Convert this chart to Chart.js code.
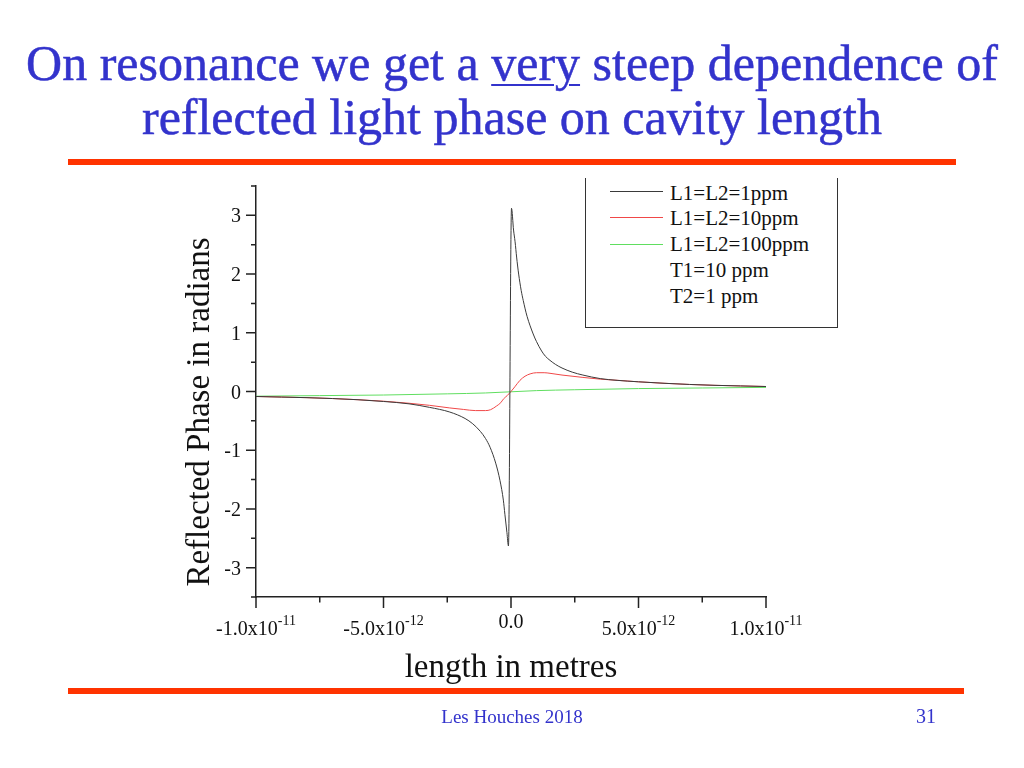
<!DOCTYPE html>
<html>
<head>
<meta charset="utf-8">
<script src="https://cdn.jsdelivr.net/npm/chart.js@4/dist/chart.umd.min.js"></script>
<style>
  html, body { margin: 0; padding: 0; background: #fff; }
  body { width: 1024px; height: 768px; position: relative; overflow: hidden; font-family: "Liberation Serif", serif; }
  .abs { position: absolute; white-space: nowrap; }
  #title { left: 0; width: 1024px; top: 36px; text-align: center; color: #3333cc; font-size: 50px; line-height: 54px; -webkit-text-stroke: 0.5px #3333cc; }
  #title u { text-decoration-thickness: 2px; text-underline-offset: 4px; }
  .rule { position: absolute; background: #ff3300; height: 6px; }
  #ytitle { width: 420px; left: -12px; top: 396px; text-align: center; font-size: 33px; line-height: 32px; color: #111; transform: rotate(-90deg); transform-origin: 210px 16px; }
  #xtitle { left: 256px; width: 510px; top: 650px; text-align: center; font-size: 33px; line-height: 32px; color: #111; }
  #footer { left: 0; width: 1024px; top: 707px; text-align: center; font-size: 19px; line-height: 19px; color: #3333cc; }
  #page { left: 916px; top: 706px; font-size: 20px; line-height: 20px; color: #3333cc; }
  #legend { position: absolute; left: 585px; top: 178px; width: 251px; height: 149px; border-left: 1.5px solid #333; border-right: 1.5px solid #333; border-bottom: 1.5px solid #333; background: #fff; }
  .lg { position: absolute; left: 84px; font-size: 21px; line-height: 21px; color: #111; white-space: nowrap; }
  .ls { position: absolute; left: 24px; width: 53px; height: 1px; }
  canvas { position: absolute; left: 0; top: 0; }
</style>
</head>
<body>
<canvas id="c" width="1024" height="768"></canvas>
<div id="title" class="abs">On resonance we get a <u>very</u> steep dependence of<br>reflected light phase on cavity length</div>
<div class="rule" style="left:68px; top:159px; width:888px;"></div>
<div class="rule" style="left:68px; top:688px; width:896px;"></div>
<div id="ytitle" class="abs">Reflected Phase in radians</div>
<div id="xtitle" class="abs">length in metres</div>
<div id="footer" class="abs">Les Houches 2018</div>
<div id="page" class="abs">31</div>
<div id="legend"></div>
<script>
// ---- data (x in metres, phase in radians) ----
const seriesNames = ["L1=L2=1ppm", "L1=L2=10ppm", "L1=L2=100ppm"];
const extraLegend = ["T1=10 ppm", "T2=1 ppm"];
const seriesColors = ["#3a3a3a", "rgb(240,72,72)", "rgb(96,222,96)"];

const xBlack = [-10e-12,-9e-12,-8e-12,-7e-12,-6e-12,-5e-12,-4e-12,-3.2e-12,-2.4e-12,-1.8e-12,-1.5e-12,-1.2e-12,-1.0e-12,-0.82e-12,-0.6e-12,-0.43e-12,-0.3e-12,-0.24e-12,-0.16e-12,-0.1e-12,0.02e-12,0.1e-12,0.16e-12,0.22e-12,0.3e-12,0.4e-12,0.48e-12,0.63e-12,0.87e-12,1.0e-12,1.2e-12,1.35e-12,1.53e-12,1.75e-12,2.0e-12,2.4e-12,2.82e-12,3.5e-12,4.16e-12,5e-12,6e-12,7e-12,8e-12,9e-12,10e-12];
const yBlack = [-0.085,-0.095,-0.105,-0.12,-0.14,-0.17,-0.21,-0.27,-0.35,-0.46,-0.55,-0.68,-0.8,-0.95,-1.22,-1.52,-1.85,-2.09,-2.4,-2.63,3.12,2.75,2.55,2.29,2.0,1.72,1.55,1.28,0.98,0.85,0.69,0.6,0.53,0.46,0.4,0.33,0.28,0.22,0.19,0.165,0.14,0.12,0.105,0.095,0.085];

const xRed = [-10e-12,-9e-12,-8e-12,-7e-12,-6e-12,-5e-12,-4e-12,-3.2e-12,-2.4e-12,-1.87e-12,-1.4e-12,-1.0e-12,-0.8e-12,-0.56e-12,-0.4e-12,-0.3e-12,-0.15e-12,0,0.15e-12,0.35e-12,0.55e-12,0.75e-12,1.0e-12,1.3e-12,1.53e-12,2.0e-12,2.82e-12,3.5e-12,4.2e-12,5e-12,6e-12,7e-12,8e-12,9e-12,10e-12];
const yRed = [-0.085,-0.095,-0.105,-0.12,-0.14,-0.165,-0.2,-0.235,-0.28,-0.305,-0.325,-0.325,-0.31,-0.245,-0.19,-0.13,-0.07,0.0,0.08,0.19,0.26,0.3,0.32,0.32,0.31,0.28,0.24,0.21,0.19,0.165,0.14,0.12,0.105,0.095,0.085];

const xGreen = [-10e-12,-7.5e-12,-5e-12,-2.5e-12,-1e-12,0,1e-12,2.5e-12,5e-12,7.5e-12,10e-12];
const yGreen = [-0.08,-0.07,-0.06,-0.04,-0.025,-0.005,0.015,0.03,0.05,0.06,0.07];

const yTickValues = [-3.5,-3,-2.5,-2,-1.5,-1,-0.5,0,0.5,1,1.5,2,2.5,3,3.5];
const yTickLabels = {"-3":"-3","-2":"-2","-1":"-1","0":"0","1":"1","2":"2","3":"3"};
const xTickValues = [-10e-12,-7.5e-12,-5e-12,-2.5e-12,0,2.5e-12,5e-12,7.5e-12,10e-12];
const xMajorValues = [-10e-12,-5e-12,0,5e-12,10e-12];
const xTickMantissa = ["-1.0x10","-5.0x10","0.0","5.0x10","1.0x10"];
const xTickExponent = ["-11","-12","","-12","-11"];

// ---- legend (HTML) ----
const lg = document.getElementById('legend');
const rows = seriesNames.concat(extraLegend);
rows.forEach((t, i) => {
  const d = document.createElement('div');
  d.className = 'lg'; d.textContent = t;
  d.style.top = (4.5 + i * 25.8) + 'px';
  lg.appendChild(d);
  if (i < seriesNames.length) {
    const s = document.createElement('div');
    s.className = 'ls'; s.style.background = seriesColors[i];
    s.style.top = (12.5 + i * 26.6) + 'px';
    lg.appendChild(s);
  }
});

function pts(xs, ys) { return xs.map((x, i) => ({ x: x, y: ys[i] })); }

const axisDeco = {
  id: 'axisDeco',
  afterDraw(chart) {
    const ctx = chart.ctx, xs = chart.scales.x, ys = chart.scales.y, a = chart.chartArea;
    ctx.save();
    ctx.strokeStyle = '#222'; ctx.lineWidth = 1.5;
    ctx.beginPath();
    yTickValues.forEach(v => {
      const py = ys.getPixelForValue(v);
      const len = Number.isInteger(v) ? 10 : 5;
      ctx.moveTo(a.left, py); ctx.lineTo(a.left - len, py);
    });
    xTickValues.forEach(v => {
      const px = xs.getPixelForValue(v);
      const len = xMajorValues.includes(v) ? 11 : 5.5;
      ctx.moveTo(px, a.bottom); ctx.lineTo(px, a.bottom + len);
    });
    ctx.stroke();
    ctx.fillStyle = '#111';
    ctx.font = '20px "Liberation Serif"';
    ctx.textAlign = 'right'; ctx.textBaseline = 'alphabetic';
    yTickValues.forEach(v => {
      const lab = yTickLabels[String(v)];
      if (lab !== undefined) ctx.fillText(lab, a.left - 15, ys.getPixelForValue(v) + 7);
    });
    ctx.textAlign = 'left';
    xMajorValues.forEach((v, i) => {
      const px = xs.getPixelForValue(v);
      ctx.font = '20px "Liberation Serif"';
      const m = xTickMantissa[i];
      const mw = ctx.measureText(m).width;
      ctx.font = '14px "Liberation Serif"';
      const e = xTickExponent[i];
      const ew = e ? ctx.measureText(e).width : 0;
      const x0 = px - (mw + ew) / 2;
      const base = e ? 635 - 597 + a.bottom : 628 - 597 + a.bottom;
      ctx.font = '20px "Liberation Serif"';
      ctx.fillText(m, x0, base);
      if (e) { ctx.font = '14px "Liberation Serif"'; ctx.fillText(e, x0 + mw, base - 10); }
    });
    ctx.restore();
  }
};

new Chart(document.getElementById('c'), {
  type: 'line',
  data: {
    datasets: [
      { label: seriesNames[0], data: pts(xBlack, yBlack), borderColor: seriesColors[0], borderWidth: 1, pointRadius: 0, cubicInterpolationMode: 'monotone', order: 0 },
      { label: seriesNames[1], data: pts(xRed, yRed), borderColor: seriesColors[1], borderWidth: 1, pointRadius: 0, cubicInterpolationMode: 'monotone', order: 1 },
      { label: seriesNames[2], data: pts(xGreen, yGreen), borderColor: seriesColors[2], borderWidth: 1, pointRadius: 0, cubicInterpolationMode: 'monotone', order: 2 }
    ]
  },
  options: {
    responsive: false, animation: false, devicePixelRatio: 1,
    layout: { padding: { left: 246, right: 258, top: 186, bottom: 161 } },
    plugins: { legend: { display: false }, tooltip: { enabled: false } },
    scales: {
      x: { type: 'linear', min: -10e-12, max: 10e-12,
           grid: { display: false, drawTicks: false }, ticks: { display: false },
           border: { display: true, color: '#222', width: 1.5 },
           afterFit: s => { s.height = 10; } },
      y: { type: 'linear', min: -3.5, max: 3.5,
           grid: { display: false, drawTicks: false }, ticks: { display: false },
           border: { display: true, color: '#222', width: 1.5 },
           afterFit: s => { s.width = 10; } }
    }
  },
  plugins: [axisDeco]
});
</script>
</body>
</html>
